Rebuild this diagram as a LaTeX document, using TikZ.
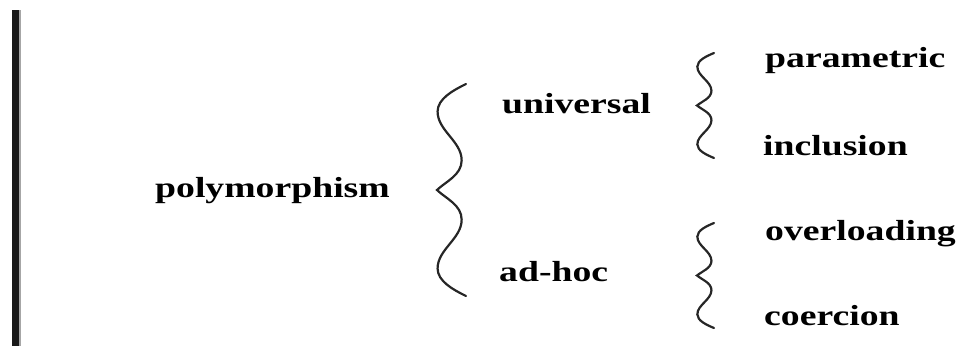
\documentclass[tikz,border=0pt]{standalone}
\usepackage{fontspec}
\setmainfont{Liberation Serif}
\usepackage{graphicx}
\tikzset{
  lbl/.style={inner sep=0pt, anchor=base west, font=\fontsize{29}{30}\selectfont\bfseries},
  wbrace/.pic={
    \draw[line width=2.2pt, line cap=round, line join=miter, black!85]
      (1,0) .. controls (0.55,0.03) and (0.02,0.07) .. (0.02,0.13)
      .. controls (0.02,0.22) and (0.85,0.27) .. (0.85,0.36)
      .. controls (0.85,0.43) and (0.3,0.46) .. (0,0.5)
      .. controls (0.3,0.54) and (0.85,0.57) .. (0.85,0.64)
      .. controls (0.85,0.73) and (0.02,0.78) .. (0.02,0.87)
      .. controls (0.02,0.93) and (0.55,0.97) .. (1,1);
  }
}
\newcommand{\wide}[1]{\scalebox{1.3}[1]{#1}}
\begin{document}
\begin{tikzpicture}[x=1pt,y=-1pt]
\useasboundingbox (0,0) rectangle (959,346);
\fill[fill=black!90] (12,10) rectangle (19,346);
\fill[fill=black!35] (19,10) rectangle (20.5,346);
\node[lbl] (poly) at (155,197) {\wide{polymorphism}};
\node[lbl] (univ) at (502,113) {\wide{universal}};
\node[lbl] (adhoc) at (499,281) {\wide{ad-hoc}};
\node[lbl] (param) at (765,67) {\wide{parametric}};
\node[lbl] (incl) at (763,155) {\wide{inclusion}};
\node[lbl] (over) at (765,240) {\wide{overloading}};
\node[lbl] (coer) at (764,325) {\wide{coercion}};
\pic (bigbrace) [xscale=29,yscale=212] at (437,84) {wbrace};
\pic (topbrace) [xscale=17,yscale=105] at (697,53) {wbrace};
\pic (botbrace) [xscale=17,yscale=105] at (697,223) {wbrace};
\end{tikzpicture}
\end{document}
